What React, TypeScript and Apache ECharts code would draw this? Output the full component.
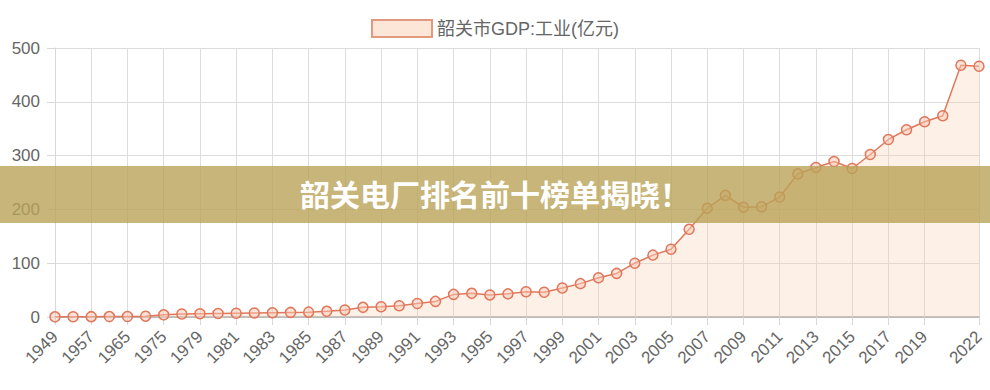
import React, { useEffect, useRef } from "react";
import * as echarts from "echarts";

const years = [
  "1949", "1952", "1957", "1962", "1965", "1970", "1975", "1978", "1979", "1980",
  "1981", "1982", "1983", "1984", "1985", "1986", "1987", "1988", "1989", "1990",
  "1991", "1992", "1993", "1994", "1995", "1996", "1997", "1998", "1999", "2000",
  "2001", "2002", "2003", "2004", "2005", "2006", "2007", "2008", "2009", "2010",
  "2011", "2012", "2013", "2014", "2015", "2016", "2017", "2018", "2019", "2020",
  "2021", "2022",
];

const industryGDP = [
  0.3, 0.4, 0.6, 0.8, 1.0, 1.5, 4, 5.5, 6, 6.5,
  7, 7.5, 8, 8.5, 9, 10.5, 13, 18, 19, 21,
  25, 29, 42, 44, 41, 43, 47, 46, 54, 62,
  73, 81, 100, 115, 126, 163, 202, 226, 204, 205,
  223, 266, 278, 289, 276, 302, 330, 348, 363, 374,
  468, 466,
];

const legendName = "韶关市GDP:工业(亿元)";
const bannerText = "韶关电厂排名前十榜单揭晓！";

const lineColor = "#E0775A";
const fillColor = "rgba(248, 205, 172, 0.42)";
const axisFont = "'Liberation Sans', Arial, sans-serif";

const showLabel = (i: number) => (i % 2 === 0 && i <= 48) || i === years.length - 1;

export default function App() {
  const ref = useRef<HTMLDivElement>(null);

  useEffect(() => {
    if (!ref.current) return;
    const chart = echarts.init(ref.current, undefined, { renderer: "svg" });
    chart.setOption({
      animation: false,
      backgroundColor: "#ffffff",
      textStyle: { fontFamily: axisFont },
      legend: {
        top: 14,
        left: "center",
        itemWidth: 60,
        itemHeight: 17,
        itemGap: 10,
        icon: "rect",
        textStyle: { fontSize: 18, color: "#666666", fontFamily: "'Liberation Sans', 'Noto Sans CJK SC', sans-serif" },
        data: [
          {
            name: legendName,
            itemStyle: { color: "rgba(252, 230, 215, 1)", borderColor: "#E39880", borderWidth: 2 },
          },
        ],
      },
      grid: { left: 55, right: 11, top: 48, bottom: 73, containLabel: false },
      xAxis: {
        type: "category",
        data: years,
        boundaryGap: false,
        axisLine: { show: true, lineStyle: { color: "#bbbbbb", width: 2 } },
        axisTick: {
          show: true,
          interval: (i: number) => showLabel(i),
          length: 8,
          lineStyle: { color: "#d8d8d8" },
        },
        axisLabel: {
          interval: (i: number) => showLabel(i),
          rotate: 45,
          color: "#666666",
          fontSize: 17,
          margin: 17,
          fontFamily: axisFont,
        },
        splitLine: {
          show: true,
          interval: (i: number) => showLabel(i),
          lineStyle: { color: "#dcdcdc", width: 1 },
        },
      },
      yAxis: {
        type: "value",
        min: 0,
        max: 500,
        interval: 100,
        axisLine: { show: true, lineStyle: { color: "#d8d8d8" } },
        axisTick: { show: true, length: 8, lineStyle: { color: "#d8d8d8" } },
        axisLabel: { color: "#666666", fontSize: 17, margin: 15, fontFamily: axisFont },
        splitLine: { show: true, lineStyle: { color: "#dcdcdc", width: 1 } },
      },
      series: [
        {
          name: legendName,
          type: "line",
          data: industryGDP,
          symbol: "circle",
          symbolSize: 10,
          showAllSymbol: true,
          lineStyle: { color: lineColor, width: 1.5 },
          itemStyle: { color: "rgba(250, 200, 180, 0.5)", borderColor: lineColor, borderWidth: 1.5 },
          areaStyle: { color: fillColor, origin: "start" },
          z: 3,
        },
      ],
      graphic: [
        {
          type: "rect",
          left: 0,
          top: 166,
          shape: { width: 990, height: 57 },
          style: { fill: "rgba(185, 162, 88, 0.8)" },
          z: 100,
        },
        {
          type: "text",
          left: "center",
          top: 178,
          style: {
            text: bannerText,
            fill: "#ffffff",
            font: "bold 30px 'Noto Sans CJK SC', sans-serif",
          },
          z: 101,
        },
      ],
    });
    return () => chart.dispose();
  }, []);

  return <div ref={ref} style={{ width: 990, height: 390, position: "absolute", left: 0, top: 0 }} />;
}
